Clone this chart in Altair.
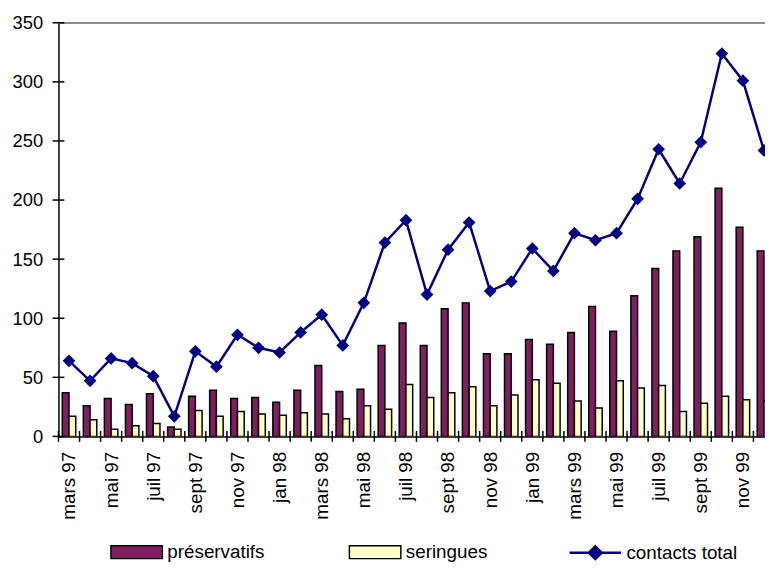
import altair as alt
import pandas as pd

# ---- data ----
months = ["mars 97", "avr 97", "mai 97", "juin 97", "juil 97", "août 97", "sept 97", "oct 97",
          "nov 97", "déc 97", "jan 98", "fév 98", "mars 98", "avr 98", "mai 98", "juin 98",
          "juil 98", "août 98", "sept 98", "oct 98", "nov 98", "déc 98", "jan 99", "fév 99",
          "mars 99", "avr 99", "mai 99", "juin 99", "juil 99", "août 99", "sept 99", "oct 99",
          "nov 99", "déc 99"]
preservatifs = [37, 26, 32, 27, 36, 8, 34, 39, 32, 33, 29, 39, 60, 38, 40, 77, 96, 77, 108, 113,
                70, 70, 82, 78, 88, 110, 89, 119, 142, 157, 169, 210, 177, 157]
seringues = [17, 14, 6, 9, 11, 6, 22, 17, 21, 19, 18, 20, 19, 15, 26, 23, 44, 33, 37, 42,
             26, 35, 48, 45, 30, 24, 47, 41, 43, 21, 28, 34, 31, 30]
contacts = [64, 47, 66, 62, 51, 17, 72, 59, 86, 75, 71, 88, 103, 77, 113, 164, 183, 120, 158, 181,
            123, 131, 159, 140, 172, 166, 172, 201, 243, 214, 249, 324, 301, 242]
series_names = ["préservatifs", "seringues", "contacts total"]
y_ticks = [0, 50, 100, 150, 200, 250, 300, 350]

FONT = "Liberation Sans"
C_PRES = "#7f1f5f"
C_SER = "#ffffc8"
C_LINE = "#000080"

n = len(months)
idx = list(range(n))
bars_df = pd.DataFrame({
    "i": idx + idx,
    "series": [series_names[0]] * n + [series_names[1]] * n,
    "value": preservatifs + seringues,
})
line_df = pd.DataFrame({"i": idx, "series": series_names[2], "value": contacts})
yt_df = pd.DataFrame({"v": y_ticks})

BAR_W = 0.32
xscale = alt.Scale(domain=[-0.5, 33.05], nice=False, zero=False)
yscale = alt.Scale(domain=[0, 350], nice=False)

label_expr = "[" + ",".join("'" + m + "'" for m in months) + "][datum.value]"

x_axis = alt.Axis(values=list(range(0, n, 2)), labelExpr=label_expr, labelAngle=270,
                  labelAlign="right", labelBaseline="middle", labelPadding=15, ticks=False,
                  grid=False, domainColor="black", domainWidth=1.5, labelFont=FONT,
                  labelFontSize=19, labelColor="black", title=None, labelOverlap=False,
                  labelFlush=False)
y_axis = alt.Axis(values=y_ticks, ticks=False, grid=False, domainColor="black", domainWidth=1.5,
                  labelFont=FONT, labelFontSize=18.5, labelColor="black", labelPadding=16,
                  title=None)

LEG_Y = 508
fill_legend = alt.Legend(title=None, orient="none", legendX=52, legendY=LEG_Y,
                         direction="horizontal", symbolType="M-1,-0.25H1V0.25H-1Z",
                         symbolSize=2704, symbolStrokeColor="black", symbolStrokeWidth=1.5,
                         symbolOpacity=1, labelFont=FONT, labelFontSize=19, labelColor="black",
                         labelOffset=4, columnPadding=82, padding=0)
line_legend = alt.Legend(title=None, orient="none", legendX=515, legendY=LEG_Y,
                         symbolType="M-1,0H1M0,-0.25L0.25,0L0,0.25L-0.25,0Z",
                         symbolSize=2704, symbolStrokeColor=C_LINE, symbolFillColor=C_LINE,
                         symbolStrokeWidth=2.5, symbolOpacity=1, labelFont=FONT,
                         labelFontSize=19, labelColor="black", labelOffset=4, padding=0)

bars = alt.Chart(bars_df).transform_calculate(
    x0="datum.series == '%s' ? datum.i - %f : datum.i" % (series_names[0], BAR_W),
    x1="datum.series == '%s' ? datum.i : datum.i + %f" % (series_names[0], BAR_W),
).mark_bar(stroke="black", strokeWidth=1.5, clip=True).encode(
    x=alt.X("x0:Q", scale=xscale, axis=x_axis),
    x2="x1:Q",
    y=alt.Y("value:Q", scale=yscale, axis=y_axis),
    y2=alt.datum(0),
    fill=alt.Fill("series:N", scale=alt.Scale(domain=series_names[:2], range=[C_PRES, C_SER]),
                  legend=fill_legend),
)

line = alt.Chart(line_df).mark_line(strokeWidth=2.5, clip=True).encode(
    x=alt.X("i:Q", scale=xscale),
    y=alt.Y("value:Q", scale=yscale),
    stroke=alt.Stroke("series:N", scale=alt.Scale(domain=[series_names[2]], range=[C_LINE]),
                      legend=line_legend),
)
points = alt.Chart(line_df).mark_point(shape="diamond", filled=True, size=165, opacity=1,
                                        color=C_LINE, clip=True).encode(
    x=alt.X("i:Q", scale=xscale),
    y=alt.Y("value:Q", scale=yscale),
)

xticks = alt.Chart(line_df).transform_calculate(b="datum.i - 0.5").mark_tick(
    orient="vertical", size=11, thickness=1.5, color="black", opacity=1
).encode(x=alt.X("b:Q", scale=xscale), y=alt.datum(0))

yticks = alt.Chart(yt_df).mark_tick(
    orient="horizontal", size=12, thickness=1.5, color="black", opacity=1
).encode(y=alt.Y("v:Q", scale=yscale), x=alt.value(0))

top_line = alt.Chart(yt_df).mark_rule(color="#8c8c8c", strokeWidth=1.5).encode(
    y=alt.datum(350))

chart = alt.layer(top_line, bars, line, points, xticks, yticks).properties(
    width=714, height=418,
    autosize=alt.AutoSizeParams(type="none"),
    padding={"left": 51, "top": 12, "right": 0, "bottom": 126},
).configure_view(stroke=None)

chart.save("out.html", embed_options={"renderer": "svg", "actions": False})
